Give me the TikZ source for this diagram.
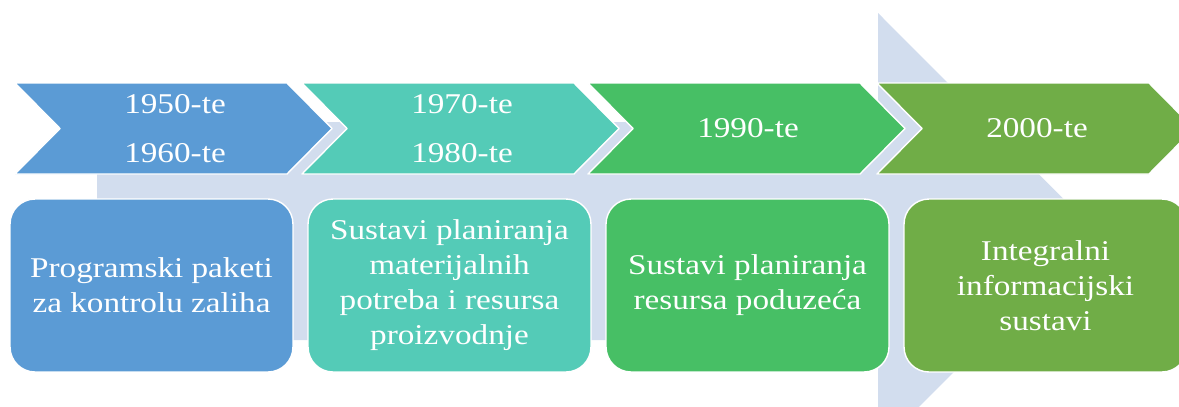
\documentclass[tikz,border=0pt]{standalone}
\usepackage{fontspec}
\setmainfont{Liberation Serif}[FakeStretch=1.16]
\definecolor{pozadina}{RGB}{210,221,238}
\definecolor{plava}{RGB}{91,155,213}
\definecolor{tirkizna}{RGB}{84,203,183}
\definecolor{zelena}{RGB}{71,191,101}
\definecolor{maslinasta}{RGB}{112,173,71}
\begin{document}
\begin{tikzpicture}[x=0.02cm, y=-0.02cm, line join=round,
	chev/.style={draw=white, line width=0.8pt},
	kutija/.style={draw=white, line width=0.8pt, rounded corners=0.5cm,
		minimum width=5.66cm, minimum height=3.46cm, inner sep=0pt,
		text=white, align=center, font=\fontsize{16.3}{19.9}\selectfont},
	godina/.style={text=white, align=center, font=\fontsize{16.3}{27.9}\selectfont}]
	\useasboundingbox (0,0) rectangle (1179,406);
	\clip (0,0) rectangle (1179,406);
	% strelica u pozadini
	\path 
	(97,122) coordinate (A)
	(878,122) coordinate (B)
	(878,13) coordinate (C)
	(1095,230.5) coordinate (D)
	(878,448) coordinate (E)
	(878,340) coordinate (F)
	(97,340) coordinate (G)
	;
	\fill[pozadina] (A)--(B)--(C)--(D)--(E)--(F)--(G)--cycle;
	% strelice s godinama
	\foreach \i/\b/\x/\t in {1/plava/15/{1950-te\\1960-te}, 2/tirkizna/302/{1970-te\\1980-te},
		3/zelena/588/{1990-te}, 4/maslinasta/877/{2000-te}}{
		\draw[chev, fill=\b] (\x,83)--++(272,0)--++(45,45.5)--++(-45,45.5)--++(-272,0)--++(45,-45.5)--cycle;
		\node[godina] (g\i) at (\x+160,128.5) {\t};}
	% kutije s opisima
	\node[kutija, fill=plava] (k1) at (151.5,285.5) {Programski paketi\\za kontrolu zaliha};
	\node[kutija, fill=tirkizna] (k2) at (449.5,285.5) {Sustavi planiranja\\materijalnih\\potreba i resursa\\proizvodnje};
	\node[kutija, fill=zelena] (k3) at (747.5,285.5) {Sustavi planiranja\\resursa poduzeća};
	\node[kutija, fill=maslinasta] (k4) at (1045.5,285.5) {Integralni\\informacijski\\sustavi};
\end{tikzpicture}
\end{document}
